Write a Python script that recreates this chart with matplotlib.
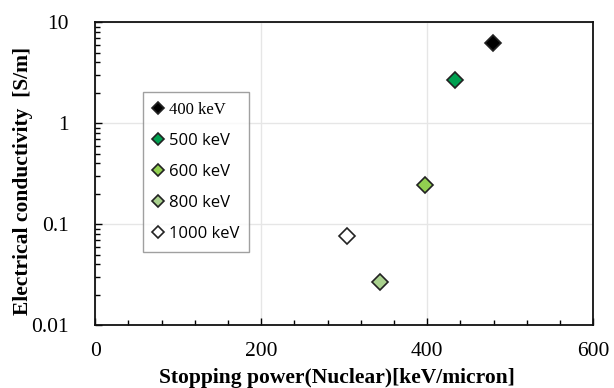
import matplotlib
matplotlib.use('Agg')
import matplotlib.pyplot as plt
from matplotlib.ticker import MultipleLocator, LogLocator, NullFormatter, FixedLocator

# data
labels = ['400 keV', '500 keV', '600 keV', '800 keV', '1000 keV']
stopping_power = [479, 433, 397, 343, 303]
conductivity = [6.2, 2.7, 0.245, 0.027, 0.076]
colors = ['#000000', '#00A050', '#92D050', '#A9D18E', '#FFFFFF']

fig = plt.figure(figsize=(6.14, 3.88), dpi=100)
ax = fig.add_axes([0.155, 0.162, 0.811, 0.781])

for x, y, c, lab in zip(stopping_power, conductivity, colors, labels):
    ax.plot(x, y, marker='D', markersize=8, color=c, markeredgecolor='#222222',
            markeredgewidth=1.2, linestyle='none', label=lab)

ax.set_yscale('log')
ax.set_xlim(0, 600)
ax.set_ylim(0.01, 10)
ax.xaxis.set_major_locator(FixedLocator([0, 200, 400, 600]))
ax.xaxis.set_minor_locator(MultipleLocator(40))
ax.yaxis.set_major_locator(FixedLocator([0.01, 0.1, 1, 10]))
ax.yaxis.set_minor_locator(LogLocator(base=10, subs=range(2, 10)))
ax.yaxis.set_minor_formatter(NullFormatter())
ax.set_yticklabels(['0.01', '0.1', '1', '10'])

ax.grid(True, which='major', color='#e6e6e6', linewidth=1)
ax.set_axisbelow(True)
ax.tick_params(which='both', direction='in', top=False, right=False)
ax.tick_params(which='major', length=5, width=1, labelsize=15.5)
ax.tick_params(axis='x', which='major', pad=12)
ax.tick_params(axis='y', which='major', pad=19)
ax.tick_params(which='minor', length=3.5, width=1)
for lab in ax.get_xticklabels() + ax.get_yticklabels():
    lab.set_family('Liberation Serif')
for s in ax.spines.values():
    s.set_linewidth(1.3)
    s.set_color('#111111')

ax.set_xlabel('Stopping power(Nuclear)[keV/micron]', fontsize=15.5, fontweight='bold',
              family='Liberation Serif')
ax.xaxis.set_label_coords(0.486, -0.14)
ax.set_ylabel('Electrical conductivity  [S/m]', fontsize=15.5, fontweight='bold',
              family='Liberation Serif')
ax.yaxis.set_label_coords(-0.124, 0.475)

leg = ax.legend(loc='upper left', bbox_to_anchor=(0.096, 0.769), frameon=True,
                fancybox=False, edgecolor='#888888', fontsize=12,
                handlelength=0.6, handletextpad=0.35, borderpad=0.6,
                labelspacing=0.9, borderaxespad=0, markerscale=0.75)
leg.get_frame().set_linewidth(1)
texts = leg.get_texts()
texts[0].set_family('Liberation Serif')
for t in texts[1:]:
    t.set_family('Open Sans')

fig.savefig('out.png', dpi=100)
